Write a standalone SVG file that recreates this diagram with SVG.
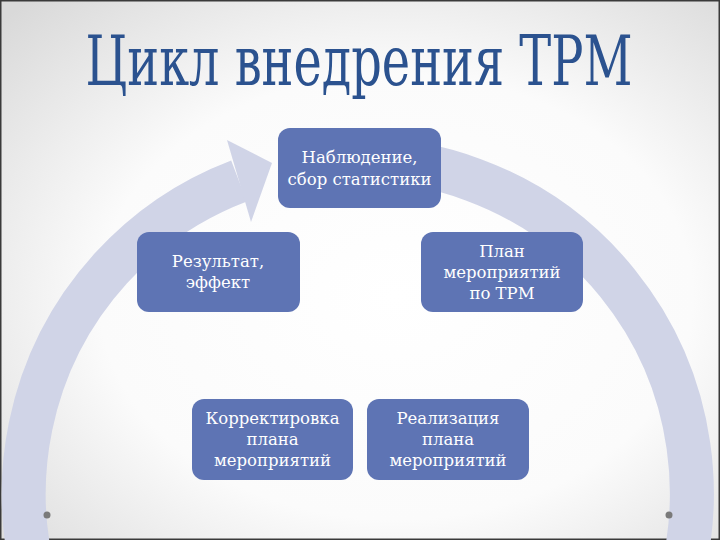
<svg xmlns="http://www.w3.org/2000/svg" width="720" height="540" viewBox="0 0 720 540">
  <defs>
    <radialGradient id="bg" cx="0.55" cy="0.55" r="0.75">
      <stop offset="0" stop-color="#ffffff"/>
      <stop offset="0.55" stop-color="#fbfbfb"/>
      <stop offset="1" stop-color="#d9d9d9"/>
    </radialGradient>
    <style>
      .title { font-family: "DejaVu Serif", serif; font-stretch: condensed; font-size: 70px; fill: #2b528f; text-anchor: middle; }
      .box { fill: #5e74b4; }
      .lbl { font-family: "DejaVu Serif", "Liberation Serif", serif; font-size: 16.5px; fill: #ffffff; text-anchor: middle; }
      .band { fill: none; stroke: #d0d4e7; stroke-width: 44; }
      .dot { fill: #7a7a7a; }
    </style>
  </defs>
  <rect x="0" y="0" width="720" height="540" fill="url(#bg)"/>
  <rect x="0.75" y="0.75" width="718.5" height="538.5" fill="none" stroke="#3a3a3a" stroke-width="1.5"/>

  <g transform="translate(359 85) scale(0.76 1)">
    <text class="title" x="0" y="0">Цикл внедрения TPM</text>
  </g>

  <g id="connectors">
    <path class="band" d="M 320 161.3 A 334 334 0 1 1 239 181"/>
    <polygon points="227,140 272,163 251,222" fill="#d0d4e7"/>
  </g>

  <circle class="dot" cx="47" cy="515" r="3.5"/>
  <circle class="dot" cx="669" cy="515" r="3.5"/>

  <g id="node-observe">
    <rect class="box" x="278" y="128" width="163" height="80" rx="12"/>
    <text class="lbl" x="359.5" y="163">Наблюдение,</text>
    <text class="lbl" x="359.5" y="185">сбор статистики</text>
  </g>
  <g id="node-result">
    <rect class="box" x="137" y="232" width="163" height="80" rx="12"/>
    <text class="lbl" x="218" y="267">Результат,</text>
    <text class="lbl" x="218" y="288">эффект</text>
  </g>
  <g id="node-plan">
    <rect class="box" x="421" y="232" width="162" height="80" rx="12"/>
    <text class="lbl" x="502" y="257">План</text>
    <text class="lbl" x="502" y="278">мероприятий</text>
    <text class="lbl" x="502" y="299">по TPM</text>
  </g>
  <g id="node-correct">
    <rect class="box" x="192" y="399" width="161" height="81" rx="12"/>
    <text class="lbl" x="272.5" y="424">Корректировка</text>
    <text class="lbl" x="272.5" y="445">плана</text>
    <text class="lbl" x="272.5" y="466">мероприятий</text>
  </g>
  <g id="node-implement">
    <rect class="box" x="367" y="399" width="162" height="81" rx="12"/>
    <text class="lbl" x="448" y="424">Реализация</text>
    <text class="lbl" x="448" y="445">плана</text>
    <text class="lbl" x="448" y="466">мероприятий</text>
  </g>
</svg>
